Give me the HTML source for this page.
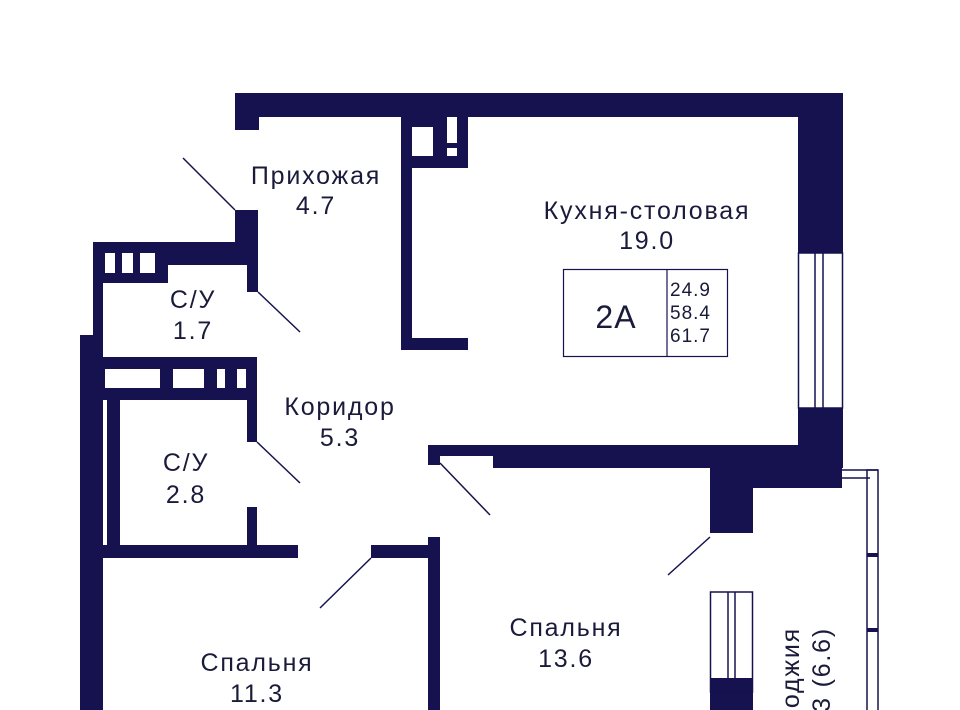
<!DOCTYPE html>
<html><head><meta charset="utf-8"><style>html,body{margin:0;padding:0;background:#fff;}svg{display:block}text{font-family:"Liberation Sans",sans-serif;fill:#1a1a3a}</style></head>
<body>
<svg width="960" height="710" viewBox="0 0 960 710" xmlns="http://www.w3.org/2000/svg">
<g fill="#15124f">
<rect x="235" y="93" width="608" height="24"/>
<rect x="235" y="93" width="24" height="37"/>
<rect x="798" y="93" width="45" height="160"/>
<rect x="798" y="408" width="45" height="60"/>
<rect x="401" y="117" width="11" height="233"/>
<rect x="401" y="338" width="67" height="12"/>
<rect x="401" y="117" width="67" height="51"/>
<rect x="235" y="210" width="23" height="55"/>
<rect x="247" y="210" width="11" height="82"/>
<rect x="93" y="242" width="165" height="23"/>
<rect x="93" y="242" width="75" height="41"/>
<rect x="93" y="242" width="10" height="115"/>
<rect x="80" y="335" width="23" height="375"/>
<rect x="80" y="357" width="177" height="43"/>
<rect x="247" y="357" width="10" height="85"/>
<rect x="107" y="400" width="13" height="155"/>
<rect x="247" y="507" width="10" height="40"/>
<rect x="80" y="545" width="218" height="13"/>
<rect x="371" y="545" width="69" height="13"/>
<rect x="428" y="537" width="12" height="173"/>
<rect x="428" y="445" width="415" height="11"/>
<rect x="428" y="445" width="12" height="20"/>
<rect x="493" y="445" width="350" height="23"/>
<rect x="753" y="445" width="89" height="43"/>
<rect x="710" y="445" width="43" height="88"/>
<rect x="710" y="678" width="43" height="32"/>
</g>
<g fill="#fff">
<rect x="105" y="253" width="10" height="20"/><rect x="122" y="253" width="11" height="20"/><rect x="140" y="253" width="15" height="20"/>
<rect x="105" y="369" width="55" height="19"/><rect x="173" y="369" width="31" height="19"/><rect x="217" y="369" width="8" height="19"/><rect x="237" y="369" width="9" height="19"/>
<rect x="104" y="400" width="2" height="145"/>
<rect x="412" y="127" width="21" height="29"/><rect x="447" y="117" width="10" height="26"/><rect x="447" y="148" width="10" height="8"/>
</g>
<g stroke="#15124f" fill="none" stroke-width="1.5">
<rect x="798.5" y="253" width="44" height="155"/>
<line x1="815" y1="253" x2="815" y2="408"/><line x1="823" y1="253" x2="823" y2="408"/>
<rect x="867" y="470" width="11" height="245"/>
<line x1="842" y1="470" x2="878" y2="470"/><line x1="842" y1="478" x2="870" y2="478"/>
<rect x="710.5" y="592" width="42" height="100"/>
<line x1="728" y1="592" x2="728" y2="678"/><line x1="735" y1="592" x2="735" y2="678"/>
<line x1="183" y1="158" x2="235" y2="210"/>
<line x1="258" y1="292" x2="300" y2="332"/>
<line x1="257" y1="442" x2="300" y2="483"/>
<line x1="440" y1="463" x2="490" y2="515"/>
<line x1="371" y1="558" x2="320" y2="608"/>
<line x1="710" y1="537" x2="668" y2="575"/>
<rect x="563.5" y="269.5" width="164" height="87" stroke-width="1.2"/>
<line x1="667" y1="269" x2="667" y2="357" stroke-width="1.2"/>
</g>
<rect x="867" y="553" width="11" height="4" fill="#15124f"/><rect x="867" y="628" width="11" height="4" fill="#15124f"/>
<g font-size="25" text-anchor="middle" letter-spacing="1.8">
<text x="316" y="184">Прихожая</text><text x="316" y="214">4.7</text>
<text x="647" y="219">Кухня-столовая</text><text x="647" y="249">19.0</text>
<text x="193" y="308">С/У</text><text x="193" y="339">1.7</text>
<text x="340" y="415">Коридор</text><text x="340" y="446">5.3</text>
<text x="186" y="471">С/У</text><text x="186" y="503">2.8</text>
<text x="257" y="671">Спальня</text><text x="257" y="702">11.3</text>
<text x="566" y="636">Спальня</text><text x="566" y="667">13.6</text>
<text x="616" y="328" font-size="32" letter-spacing="1">2A</text>
</g>
<g font-size="19" letter-spacing="1">
<text x="670" y="296">24.9</text><text x="670" y="319">58.4</text><text x="670" y="342">61.7</text>
</g>
<g font-size="25" text-anchor="end" letter-spacing="1.8">
<text transform="translate(799,627) rotate(-90)">Лоджия</text>
<text transform="translate(830,627) rotate(-90)">3.3 (6.6)</text>
</g>
</svg>
</body></html>
